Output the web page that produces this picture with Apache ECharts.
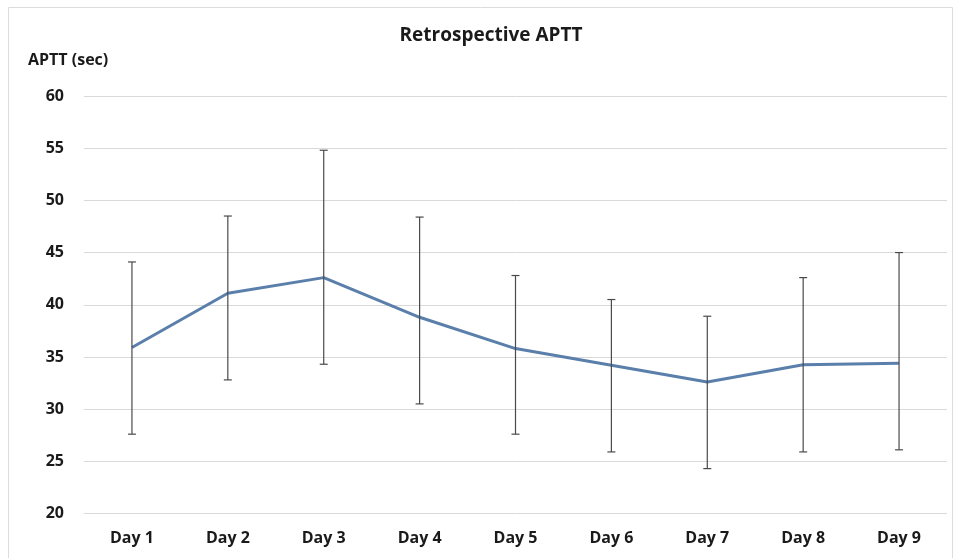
<!DOCTYPE html>
<html>
<head>
<meta charset="utf-8">
<script src="https://cdn.jsdelivr.net/npm/echarts@6/dist/echarts.min.js"></script>
<style>
  html, body { margin: 0; padding: 0; background: #fff; }
  #chart { width: 955px; height: 558px; }
</style>
</head>
<body>
<div id="chart"></div>
<script>
// Daily APTT: mean with error range
const days = ['Day 1', 'Day 2', 'Day 3', 'Day 4', 'Day 5', 'Day 6', 'Day 7', 'Day 8', 'Day 9'];
const meanAPTT = [35.9, 41.1, 42.6, 38.8, 35.8, 34.2, 32.6, 34.25, 34.4];
const upperAPTT = [44.1, 48.5, 54.8, 48.4, 42.8, 40.5, 38.9, 42.6, 45.0];
const lowerAPTT = [27.6, 32.8, 34.3, 30.5, 27.6, 25.9, 24.3, 25.9, 26.1];
const yTicks = { min: 20, max: 60, step: 5 };

const FONT = '"Open Sans", Lato, sans-serif';

const errorData = days.map((d, i) => [i, lowerAPTT[i], upperAPTT[i]]);

const chart = echarts.init(document.getElementById('chart'));
chart.setOption({
  backgroundColor: '#fff',
  animation: false,
  title: {
    text: 'Retrospective APTT',
    left: 486, top: 21, textAlign: 'center',
    textStyle: { fontFamily: FONT, fontWeight: 'bold', fontSize: 19, color: '#1a1a1a' }
  },
  graphic: [{
    type: 'rect',
    shape: { x: 8.5, y: 7.5, width: 944, height: 560 },
    style: { fill: 'none', stroke: '#dcdcdc', lineWidth: 1 },
    silent: true
  }],
  grid: { left: 84, right: 8, top: 96, bottom: 44.5, containLabel: false },
  xAxis: {
    type: 'category',
    data: days,
    boundaryGap: true,
    axisLine: { show: false },
    axisTick: { show: false },
    axisLabel: {
      margin: 17,
      fontFamily: FONT, fontWeight: 'bold', fontSize: 16, color: '#1a1a1a'
    }
  },
  yAxis: {
    type: 'value',
    min: yTicks.min, max: yTicks.max, interval: yTicks.step,
    name: 'APTT (sec)',
    nameLocation: 'end',
    nameGap: 0,
    nameTextStyle: {
      fontFamily: FONT, fontWeight: 'bold', fontSize: 16, color: '#1a1a1a',
      align: 'left', padding: [0, 0, 28, -56]
    },
    axisLine: { show: false },
    axisTick: { show: false },
    axisLabel: {
      margin: 20,
      fontFamily: FONT, fontWeight: 'bold', fontSize: 16, color: '#1a1a1a'
    },
    splitLine: { lineStyle: { color: '#d9d9d9', width: 1 } }
  },
  series: [
    {
      type: 'custom',
      name: 'range',
      z: 3,
      renderItem: function (params, api) {
        const x = api.value(0);
        const lo = api.coord([x, api.value(1)]);
        const hi = api.coord([x, api.value(2)]);
        const cap = 4;
        const style = { stroke: '#4a4a4a', lineWidth: 1.2 };
        return {
          type: 'group',
          children: [
            { type: 'line', shape: { x1: lo[0], y1: lo[1], x2: hi[0], y2: hi[1] }, style: style },
            { type: 'line', shape: { x1: hi[0] - cap, y1: hi[1], x2: hi[0] + cap, y2: hi[1] }, style: style },
            { type: 'line', shape: { x1: lo[0] - cap, y1: lo[1], x2: lo[0] + cap, y2: lo[1] }, style: style }
          ]
        };
      },
      encode: { x: 0, y: [1, 2] },
      data: errorData
    },
    {
      type: 'line',
      name: 'APTT',
      z: 2,
      data: meanAPTT,
      showSymbol: false,
      symbol: 'none',
      lineStyle: { color: '#5b7fab', width: 3 }
    }
  ]
});
</script>
</body>
</html>
